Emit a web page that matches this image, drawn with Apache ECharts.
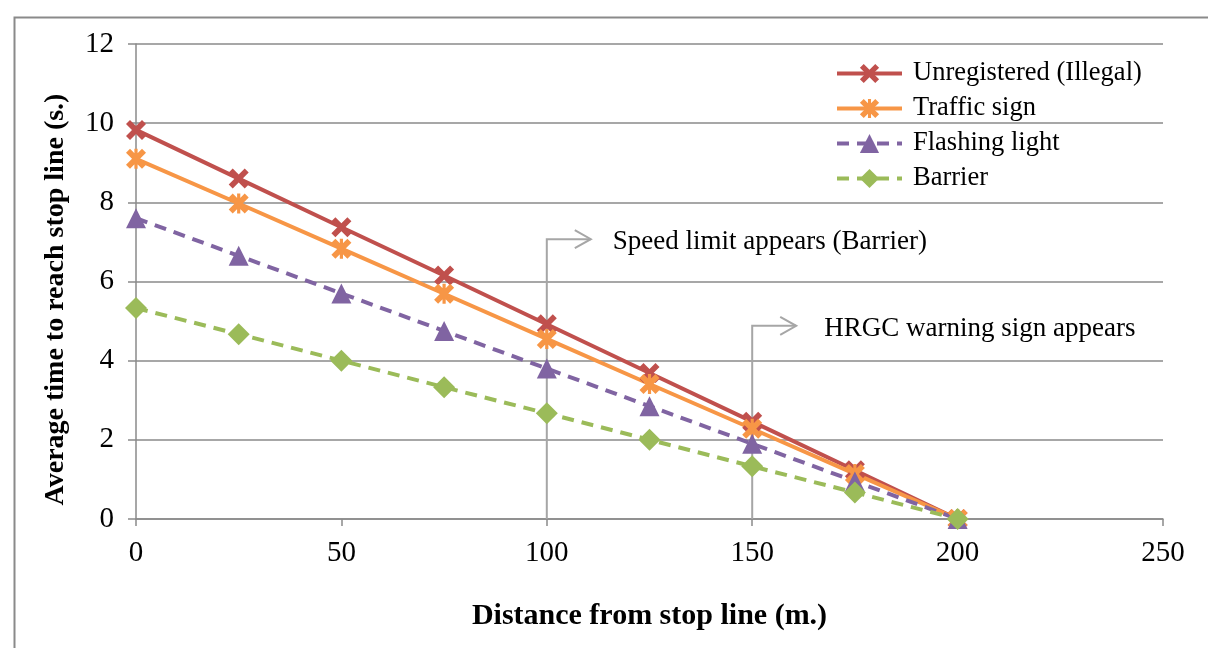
<!DOCTYPE html>
<html><head><meta charset="utf-8">
<script src="https://cdn.jsdelivr.net/npm/echarts@6/dist/echarts.min.js"></script>
<style>html,body{margin:0;padding:0;background:#fff}#c{width:1208px;height:648px}</style>
</head><body><div id="c"></div>
<script>
const distances = [0, 25, 50, 75, 100, 125, 150, 175, 200];
const unregistered = [9.83, 8.6, 7.37, 6.15, 4.92, 3.69, 2.46, 1.23, 0];
const trafficSign = [9.1, 7.97, 6.83, 5.69, 4.55, 3.41, 2.28, 1.14, 0];
const flashingLight = [7.6, 6.65, 5.7, 4.75, 3.8, 2.85, 1.9, 0.95, 0];
const barrier = [5.33, 4.67, 4.0, 3.33, 2.67, 2.0, 1.33, 0.67, 0];
const seriesNames = ['Unregistered (Illegal)', 'Traffic sign', 'Flashing light', 'Barrier'];
const annX = [100, 150];
const annY = [7.07, 4.88];
const annLabels = ['Speed limit appears (Barrier)', 'HRGC warning sign appears'];
const xTitle = 'Distance from stop line (m.)';
const yTitle = 'Average time to reach stop line (s.)';

const FONT = '"Liberation Serif", "Times New Roman", serif';
const GRAY = '#8a8a8a';
const xPath = 'path://M2,0 L5,3 L8,0 L10,2 L7,5 L10,8 L8,10 L5,7 L2,10 L0,8 L3,5 L0,2 Z';
const starPath = 'path://M2,0 L5,3 L8,0 L10,2 L7,5 L10,8 L8,10 L5,7 L2,10 L0,8 L3,5 L0,2 Z M4.2,0 L5.8,0 L5.8,10 L4.2,10 Z';
const pairs = a => distances.map((d, i) => [d, a[i]]);

function mk(name, data, color, dashed, symbol, size) {
  return {
    name, type: 'line', data: pairs(data), symbol, symbolSize: size,
    lineStyle: { color, width: 4, type: dashed ? [12, 8] : 'solid' },
    itemStyle: { color, borderWidth: 0 }, z: 3
  };
}

const chart = echarts.init(document.getElementById('c'), null, { renderer: 'canvas' });
const option = {
  animation: false,
  backgroundColor: '#fff',
  textStyle: { fontFamily: FONT },
  grid: { left: 136, right: 45, top: 44, bottom: 129, containLabel: false },
  legend: {
    orient: 'vertical', left: 830, top: 55,
    itemWidth: 65, itemHeight: 24, itemGap: 8,
    lineStyle: { width: 4 },
    textStyle: { fontFamily: FONT, fontSize: 26.5, color: '#000', padding: [0, 0, 0, 6] },
    data: seriesNames
  },
  xAxis: {
    type: 'value', min: 0, max: 250, interval: 50,
    name: xTitle, nameLocation: 'middle', nameGap: 82,
    nameTextStyle: { fontFamily: FONT, fontSize: 30, fontWeight: 'bold', color: '#000', verticalAlign: 'top' },
    axisLine: { onZero: false, lineStyle: { color: GRAY, width: 1.5 } },
    axisTick: { show: true, length: 7, lineStyle: { color: GRAY, width: 1.5 } },
    axisLabel: { fontFamily: FONT, fontSize: 29, color: '#000', margin: 20 },
    splitLine: { show: false }
  },
  yAxis: {
    type: 'value', min: 0, max: 12, interval: 2,
    name: yTitle, nameLocation: 'middle', nameGap: 66, nameRotate: 90,
    nameTextStyle: { fontFamily: FONT, fontSize: 28, fontWeight: 'bold', color: '#000', padding: [0, 36, 0, 0] },
    axisLine: { show: true, lineStyle: { color: GRAY, width: 1.5 } },
    axisTick: { show: true, length: 8, lineStyle: { color: GRAY, width: 1.5 } },
    axisLabel: { fontFamily: FONT, fontSize: 29, color: '#000', margin: 22 },
    splitLine: { show: true, lineStyle: { color: GRAY, width: 1.5 } }
  },
  series: [
    mk(seriesNames[0], unregistered, '#C0504D', false, xPath, 20),
    mk(seriesNames[1], trafficSign, '#F79646', false, starPath, 20),
    mk(seriesNames[2], flashingLight, '#8064A2', true, 'triangle', 20),
    mk(seriesNames[3], barrier, '#9BBB59', true, 'diamond', 22)
  ]
};
chart.setOption(option);

const g = [{
  type: 'rect', left: 12, top: 15, z: 0, silent: true,
  shape: { width: 1300, height: 700 },
  style: { fill: null, stroke: GRAY, lineWidth: 2 }
}];
annX.forEach((x, i) => {
  const top = chart.convertToPixel({ gridIndex: 0 }, [x, annY[i]]);
  const bot = chart.convertToPixel({ gridIndex: 0 }, [x, 0]);
  const tipX = top[0] + 44;
  g.push({ type: 'polyline', z: 1, silent: true,
    shape: { points: [[bot[0], bot[1]], [top[0], top[1]], [tipX, top[1]]] },
    style: { stroke: '#a6a6a6', lineWidth: 2, fill: null } });
  g.push({ type: 'polyline', z: 1, silent: true,
    shape: { points: [[tipX - 16, top[1] - 9], [tipX, top[1]], [tipX - 16, top[1] + 9]] },
    style: { stroke: '#a6a6a6', lineWidth: 2, fill: null } });
  g.push({ type: 'text', z: 5, silent: true, x: top[0] + (i === 0 ? 66 : 72), y: top[1] + 3,
    style: { text: annLabels[i], fontFamily: FONT, fontSize: 27, fill: '#000', verticalAlign: 'middle' } });
});
chart.setOption({ graphic: g });
</script></body></html>
